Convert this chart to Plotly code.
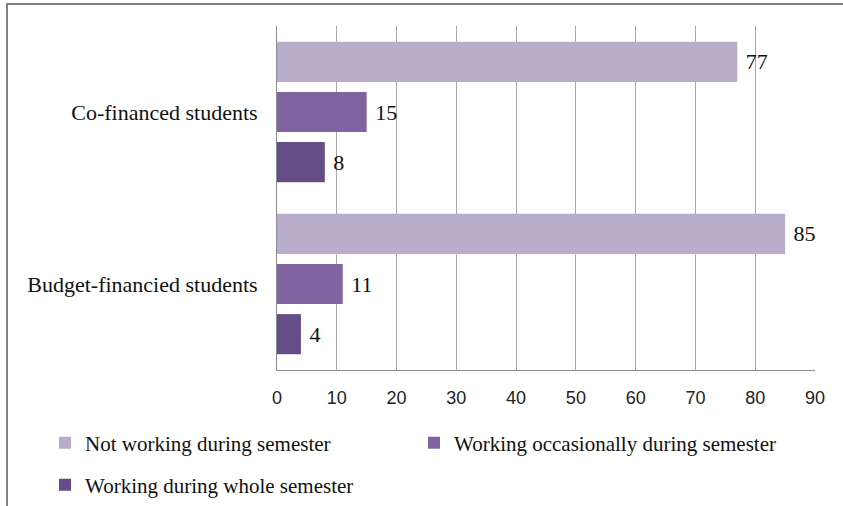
import plotly.graph_objects as go

categories = ["Co-financed students", "Budget-financied students"]
series_names = ["Not working during semester",
                "Working occasionally during semester",
                "Working during whole semester"]
not_working = [77, 85]
occasionally = [15, 11]
whole_semester = [8, 4]
x_ticks = [0, 10, 20, 30, 40, 50, 60, 70, 80, 90]

colors = ["#B9ADCB", "#8064A2", "#654E87"]
values = [not_working, occasionally, whole_semester]
legends = ["legend", "legend", "legend2"]

SERIF = "Liberation Serif"
fig = go.Figure()
for name, vals, col, lg in zip(series_names, values, colors, legends):
    fig.add_trace(go.Bar(
        y=categories, x=vals, name=name, orientation="h",
        marker=dict(color=col, line=dict(width=0)),
        text=vals, texttemplate=" %{x}", textposition="outside",
        textfont=dict(family=SERIF, size=22, color="#111111"),
        cliponaxis=False, legend=lg,
    ))

W, H = 843, 506
L, R, T, B = 277, 28, 26, 136
pw = W - L - R
ph = H - T - B

def px(x):
    return (x - L) / pw

def py(y):
    return (H - B - y) / ph

fig.update_layout(
    width=W, height=H,
    margin=dict(l=L, r=R, t=T, b=B, autoexpand=False),
    paper_bgcolor="white", plot_bgcolor="white",
    barmode="group", bargap=0.125, bargroupgap=0.2,
    xaxis=dict(range=[0, 90], tickvals=x_ticks, showgrid=True,
               gridcolor="#A8A8A8", gridwidth=1, zeroline=False,
               showline=True, linecolor="#8C8C8C", linewidth=1,
               ticks="", ticklabelstandoff=11,
               tickfont=dict(family="Liberation Sans", size=18, color="#222222"),
               fixedrange=True),
    yaxis=dict(autorange="reversed", showgrid=False, zeroline=False,
               showline=True, linecolor="#8C8C8C", linewidth=1,
               ticks="", ticklabelstandoff=14,
               tickfont=dict(family=SERIF, size=22, color="#111111"),
               fixedrange=True),
    legend=dict(orientation="h", x=px(45), xanchor="left",
                y=py(443), yanchor="middle", entrywidth=324,
                entrywidthmode="pixels", traceorder="normal",
                font=dict(family=SERIF, size=21, color="#111111"),
                bgcolor="rgba(0,0,0,0)"),
    legend2=dict(orientation="h", x=px(45), xanchor="left",
                 y=py(485), yanchor="middle",
                 font=dict(family=SERIF, size=21, color="#111111"),
                 bgcolor="rgba(0,0,0,0)"),
    shapes=[
        dict(type="line", xref="paper", yref="paper",
             x0=px(7), x1=px(7), y0=py(3), y1=py(H + 5),
             line=dict(color="#808080", width=2)),
        dict(type="line", xref="paper", yref="paper",
             x0=px(6), x1=px(W + 5), y0=py(4), y1=py(4),
             line=dict(color="#808080", width=2)),
    ],
)

fig.write_html("out.html", config={"displayModeBar": False},
               post_script="document.body.style.margin='0px';")
